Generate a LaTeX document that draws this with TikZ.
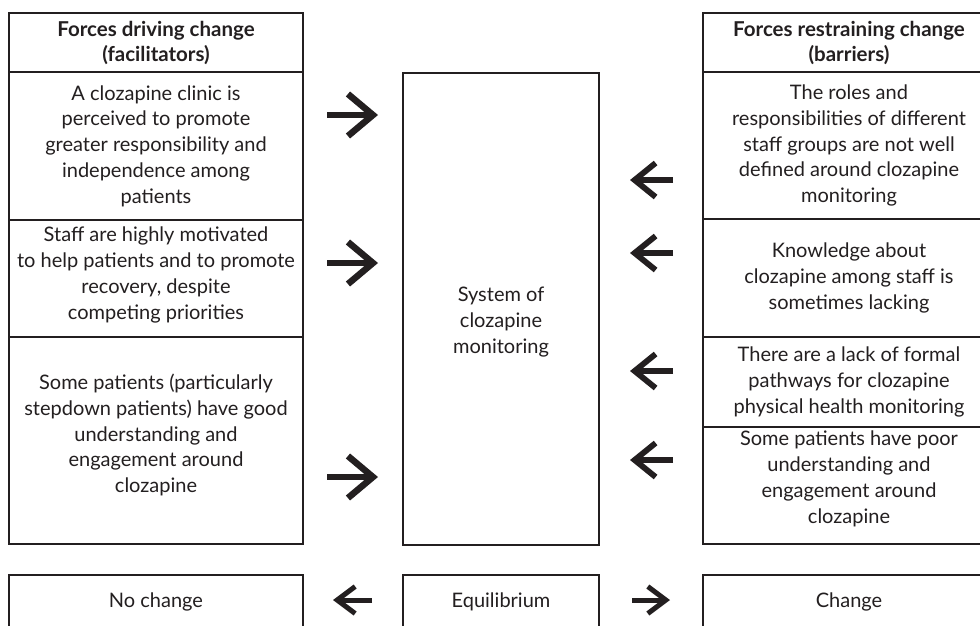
\documentclass[tikz,border=0pt]{standalone}
\usepackage{fontspec}
\setmainfont{Lato}
\usetikzlibrary{arrows.meta}
\definecolor{ink}{HTML}{231F20}
\begin{document}
\begin{tikzpicture}[x=1pt,y=-1pt,
  box/.style={draw=ink, line width=2.6pt, inner sep=0pt, align=center, text=ink,
    font=\fontsize{20}{25.8}\selectfont},
  hdr/.style={box, font=\fontsize{20.5}{25}\selectfont\bfseries},
  txt/.style={align=center, text=ink, inner sep=0pt, font=\fontsize{20}{25.8}\selectfont},
  bigarrow/.style={draw=ink, line width=6.5pt, -{Straight Barb[length=25pt, width=42pt]}},
  midarrow/.style={draw=ink, line width=5.8pt, -{Straight Barb[length=21pt, width=34pt]}},
  smallarrow/.style={draw=ink, line width=5pt, -{Straight Barb[length=18pt, width=27pt]}},
]
\clip (0,0) rectangle (980,625);
\fill[white] (0,0) rectangle (980,625);

% left column
\node[hdr, minimum width=294pt, minimum height=59pt] (hl) at (156,42.5) {Forces driving change\\(facilitators)};
\node[box, minimum width=294pt, minimum height=148pt] (l1) at (156,146) {A clozapine clinic is\\perceived to promote\\greater responsibility and\\independence among\\patients};
\node[box, minimum width=294pt, minimum height=117pt] (l2) at (156,278.5) {};
\node[txt] at (156,275) {Staff are highly motivated\\to help patients and to promote\\recovery, despite\\competing priorities};
\node[box, minimum width=294pt, minimum height=207pt] (l3) at (156,440.5) {};
\node[txt] at (156,435) {Some patients (particularly\\stepdown patients) have good\\understanding and\\engagement around\\clozapine};

% centre
\node[box, minimum width=196pt, minimum height=472pt] (c) at (501,309) {};
\node[txt] at (501,322) {System of\\clozapine\\monitoring};

% right column
\node[hdr, minimum width=292pt, minimum height=59pt] (hr) at (849,42.5) {Forces restraining change\\(barriers)};
\node[box, minimum width=292pt, minimum height=147pt] (r1) at (849,145.5) {The roles and\\responsibilities of different\\staff groups are not well\\defined around clozapine\\monitoring};
\node[box, minimum width=292pt, minimum height=118pt] (r2) at (849,278) {Knowledge about\\clozapine among staff is\\sometimes lacking};
\node[box, minimum width=292pt, minimum height=90pt] (r3) at (849,382) {There are a lack of formal\\pathways for clozapine\\physical health monitoring};
\node[box, minimum width=292pt, minimum height=117pt] (r4) at (849,485.5) {};
\node[txt] at (849,479) {Some patients have poor\\understanding and\\engagement around\\clozapine};

% bottom row
\node[box, minimum width=294pt, minimum height=75pt] (bl) at (156,612.5) {};
\node[txt] at (156,602) {No change};
\node[box, minimum width=196pt, minimum height=75pt] (bc) at (501,612.5) {};
\node[txt] at (501,602) {Equilibrium};
\node[box, minimum width=292pt, minimum height=75pt] (br) at (849,612.5) {};
\node[txt] at (849,602) {Change};

% arrows
\coordinate (a1s) at (327,115); \coordinate (a1e) at (378,115);
\coordinate (a2s) at (327,263); \coordinate (a2e) at (378,263);
\coordinate (a3s) at (327,477); \coordinate (a3e) at (378,477);
\draw[bigarrow] (a1s) -- (a1e);
\draw[bigarrow] (a2s) -- (a2e);
\draw[bigarrow] (a3s) -- (a3e);

\coordinate (b1s) at (673,180); \coordinate (b1e) at (630,180);
\coordinate (b2s) at (673,253); \coordinate (b2e) at (630,253);
\coordinate (b3s) at (673,371); \coordinate (b3e) at (630,371);
\coordinate (b4s) at (673,460); \coordinate (b4e) at (630,460);
\draw[midarrow] (b1s) -- (b1e);
\draw[midarrow] (b2s) -- (b2e);
\draw[midarrow] (b3s) -- (b3e);
\draw[midarrow] (b4s) -- (b4e);

\coordinate (e1s) at (372,600); \coordinate (e1e) at (333,600);
\coordinate (e2s) at (632,600); \coordinate (e2e) at (670,600);
\draw[smallarrow] (e1s) -- (e1e);
\draw[smallarrow] (e2s) -- (e2e);
\end{tikzpicture}
\end{document}
